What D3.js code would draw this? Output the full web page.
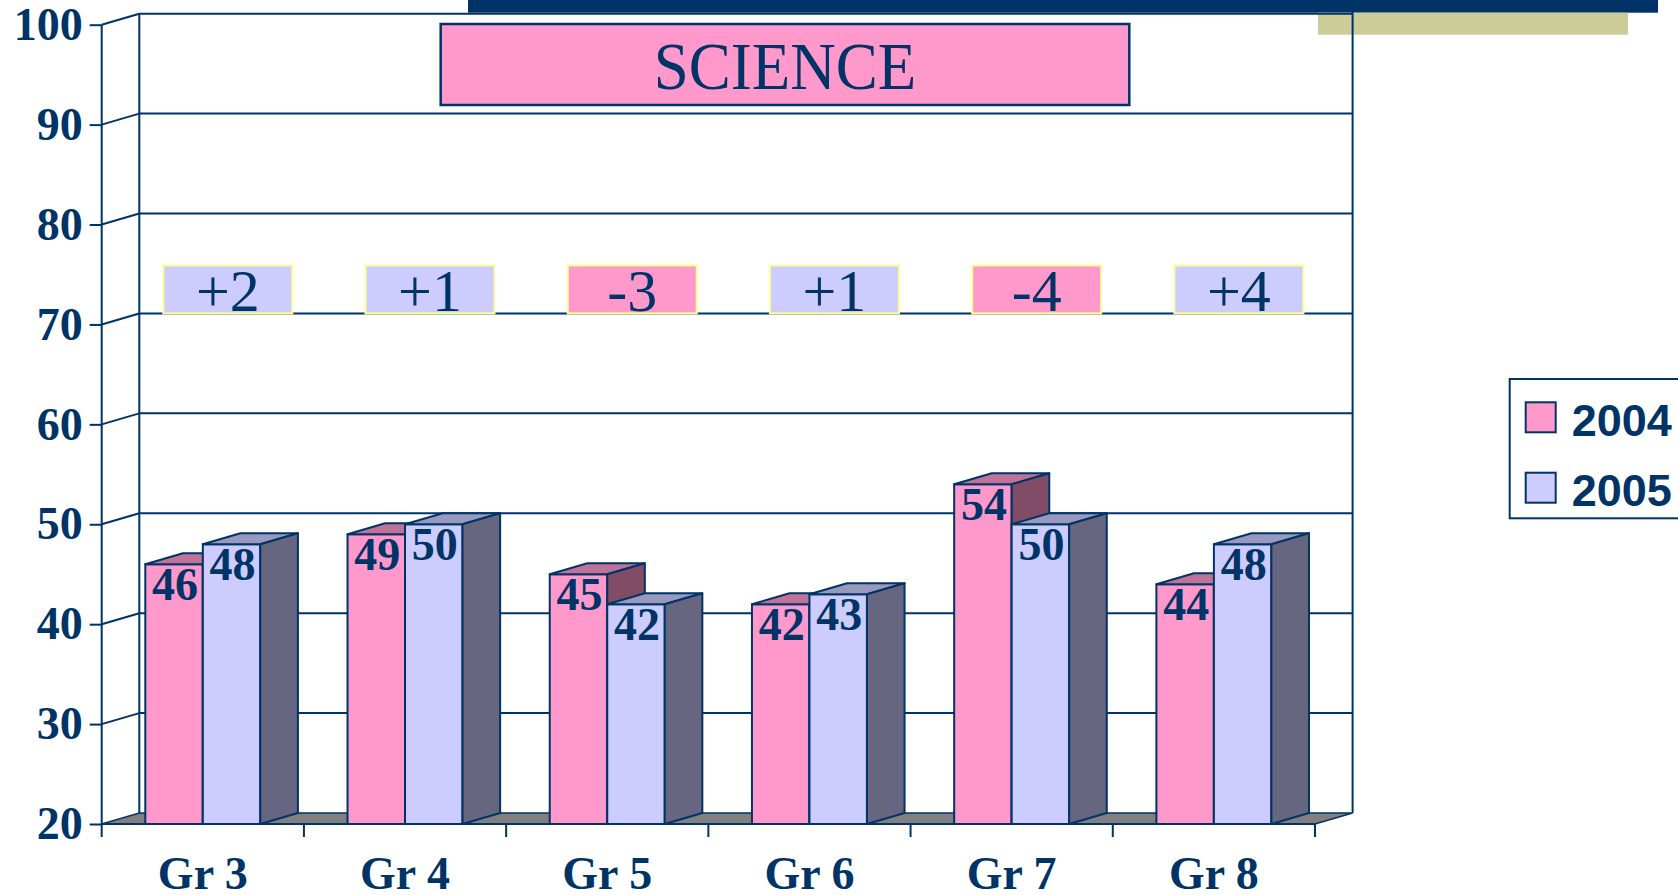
<!DOCTYPE html>
<html>
<head>
<meta charset="utf-8">
<script src="https://cdn.jsdelivr.net/npm/d3@7"></script>
<style>
body { margin: 0; background: #fff; overflow: hidden; }
</style>
</head>
<body>
<div id="chart"></div>
<script>
// data
var grades = ["Gr 3", "Gr 4", "Gr 5", "Gr 6", "Gr 7", "Gr 8"];
var years = ["2004", "2005"];
var scores2004 = [46, 49, 45, 42, 54, 44];
var scores2005 = [48, 50, 42, 43, 50, 48];
var changes = ["+2", "+1", "-3", "+1", "-4", "+4"];
var yTicks = [20, 30, 40, 50, 60, 70, 80, 90, 100];

var navy = "#003366";
var frontFill = {"2004": "#ff99cc", "2005": "#ccccff"},
    topFill = {"2004": "#bf7399", "2005": "#9999bf"},
    sideFill = {"2004": "#804c66", "2005": "#666680"};
var serif = "'Liberation Serif', 'Times New Roman', serif",
    sans = "'Liberation Sans', Arial, sans-serif";

var svg = d3.select("#chart").append("svg").attr("width", 1678).attr("height", 895),
    dx = 37.6, dy = -11;   // 3d depth offset

var y = d3.scaleLinear().domain([20, 100]).range([824, 24.7]);
var x = d3.scaleBand().domain(grades).range([101.7, 1315]);
var barW = 57.5;
var x0 = x.range()[0], x1 = x.range()[1];

// slide decorations
svg.append("rect").attr("x", 468).attr("y", 0).attr("width", 1190).attr("height", 12.7).style("fill", navy);
svg.append("rect").attr("x", 1318).attr("y", 12.7).attr("width", 310).attr("height", 22).style("fill", "#cccc99");

// walls + grid
var walls = svg.append("g").style("stroke", navy).style("fill", "none").style("stroke-width", 2);
walls.selectAll("line.back")
    .data(yTicks.slice(1))
    .enter().append("line")
    .attr("x1", x0 + dx).attr("x2", x1 + dx)
    .attr("y1", function(d) { return y(d) + dy; })
    .attr("y2", function(d) { return y(d) + dy; });
walls.selectAll("line.diag")
    .data(yTicks.slice(1))
    .enter().append("line")
    .attr("x1", x0).attr("x2", x0 + dx)
    .attr("y1", function(d) { return y(d); })
    .attr("y2", function(d) { return y(d) + dy; });
walls.append("line")
    .attr("x1", x0 + dx).attr("x2", x0 + dx)
    .attr("y1", y(100) + dy).attr("y2", y(20) + dy);
walls.append("line")
    .attr("x1", x1 + dx).attr("x2", x1 + dx)
    .attr("y1", 12).attr("y2", y(20) + dy);

// floor
svg.append("polygon")
    .attr("points", [[x0, y(20)], [x1, y(20)], [x1 + dx, y(20) + dy], [x0 + dx, y(20) + dy]].join(" "))
    .style("fill", "#808080").style("stroke", navy).style("stroke-width", 1.5);
svg.append("line")
    .attr("x1", x0).attr("x2", x1).attr("y1", y(20)).attr("y2", y(20))
    .style("stroke", navy).style("stroke-width", 2);

// y axis
var yAxis = svg.append("g")
    .attr("transform", "translate(" + x0 + ",0)")
    .call(d3.axisLeft(y).tickValues(yTicks).tickSize(12).tickSizeOuter(0).tickPadding(7));
yAxis.select(".domain").remove();
yAxis.selectAll("line").style("stroke", navy).style("stroke-width", 2);
yAxis.selectAll("text")
    .style("font-family", serif).style("font-weight", "bold")
    .style("font-size", "46px").style("fill", navy);
svg.append("line")
    .attr("x1", x0).attr("x2", x0).attr("y1", y(100)).attr("y2", y(20) + 13)
    .style("stroke", navy).style("stroke-width", 2);

// x axis
svg.append("g").selectAll("line")
    .data(grades.slice(1).concat(["end"]))
    .enter().append("line")
    .attr("x1", function(d) { return d == "end" ? x1 : x(d); })
    .attr("x2", function(d) { return d == "end" ? x1 : x(d); })
    .attr("y1", y(20)).attr("y2", y(20) + 13)
    .style("stroke", navy).style("stroke-width", 2);
var xAxis = svg.append("g")
    .attr("transform", "translate(0," + y(20) + ")")
    .call(d3.axisBottom(x).tickSize(0).tickPadding(0));
xAxis.select(".domain").remove();
xAxis.selectAll("text")
    .attr("dy", null).attr("y", 65)
    .style("font-family", serif).style("font-weight", "bold")
    .style("font-size", "46px").style("fill", navy);

// bars
var bars = [];
grades.forEach(function(g, i) {
    var start = x(g) + (x.bandwidth() - 2 * barW) / 2;
    bars.push({grade: g, year: "2004", value: scores2004[i], x: start});
    bars.push({grade: g, year: "2005", value: scores2005[i], x: start + barW});
});

var bar = svg.append("g").selectAll("g")
    .data(bars)
    .enter().append("g")
    .style("stroke", navy).style("stroke-width", 2).style("stroke-linejoin", "round");
bar.append("rect")
    .attr("x", function(d) { return d.x; })
    .attr("y", function(d) { return y(d.value); })
    .attr("width", barW)
    .attr("height", function(d) { return y(20) - y(d.value); })
    .style("fill", function(d) { return frontFill[d.year]; });
bar.append("polygon")
    .attr("points", function(d) {
        var t = y(d.value);
        return [[d.x, t], [d.x + barW, t], [d.x + barW + dx, t + dy], [d.x + dx, t + dy]].join(" ");
    })
    .style("fill", function(d) { return topFill[d.year]; });
bar.append("polygon")
    .attr("points", function(d) {
        var t = y(d.value), r = d.x + barW;
        return [[r, t], [r + dx, t + dy], [r + dx, y(20) + dy], [r, y(20)]].join(" ");
    })
    .style("fill", function(d) { return sideFill[d.year]; });

svg.append("g").selectAll("text")
    .data(bars)
    .enter().append("text")
    .attr("x", function(d) { return d.x + barW / 2 + 1; })
    .attr("y", function(d) { return y(d.value) + 36; })
    .attr("text-anchor", "middle")
    .style("font-family", serif).style("font-weight", "bold")
    .style("font-size", "46px").style("fill", navy)
    .text(function(d) { return d.value; });

// change boxes
var chg = svg.append("g").selectAll("g")
    .data(grades)
    .enter().append("g")
    .attr("transform", function(d) {
        return "translate(" + (x(d) + x.bandwidth() / 2 + 25) + "," + (y(70) + dy) + ")";
    });
chg.append("rect")
    .attr("x", -64.5).attr("y", -48).attr("width", 129).attr("height", 48)
    .style("fill", function(d, i) { return changes[i][0] == "-" ? "#ff99cc" : "#ccccff"; })
    .style("stroke", "#ffff99").style("stroke-width", 2);
chg.append("text")
    .attr("y", -2)
    .attr("text-anchor", "middle")
    .style("font-family", serif).style("font-size", "60px").style("fill", navy)
    .text(function(d, i) { return changes[i]; });

// title
svg.append("rect")
    .attr("x", 440.7).attr("y", 24).attr("width", 688.6).attr("height", 81)
    .style("fill", "#ff99cc").style("stroke", navy).style("stroke-width", 2.5);
svg.append("text")
    .attr("transform", "translate(785,88.8) scale(1,1.09)")
    .attr("text-anchor", "middle")
    .style("font-family", serif).style("font-size", "63px").style("fill", navy)
    .text("SCIENCE");

// legend
var legend = svg.append("g");
legend.append("rect")
    .attr("x", 1509.7).attr("y", 379).attr("width", 200).attr("height", 139.3)
    .style("fill", "#fff").style("stroke", navy).style("stroke-width", 2);
var item = legend.selectAll("g")
    .data(years)
    .enter().append("g")
    .attr("transform", function(d, i) { return "translate(1525.7," + (402.3 + i * 70.4) + ")"; });
item.append("rect")
    .attr("width", 30).attr("height", 30)
    .style("fill", function(d) { return frontFill[d]; })
    .style("stroke", navy).style("stroke-width", 2);
item.append("text")
    .attr("x", 46).attr("y", 33.5)
    .style("font-family", sans).style("font-weight", "bold")
    .style("font-size", "45px").style("fill", navy)
    .text(function(d) { return d; });
</script>
</body>
</html>
